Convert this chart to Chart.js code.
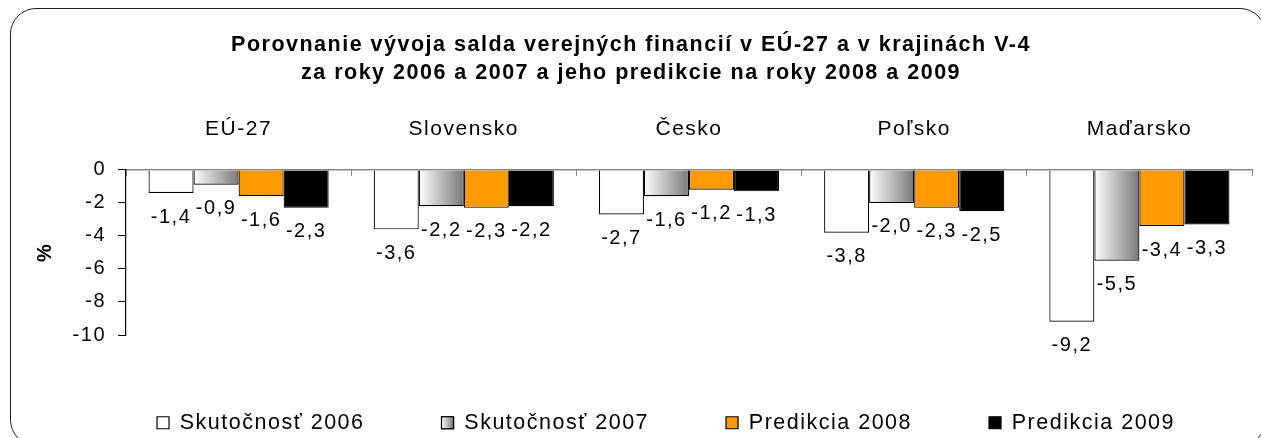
<!DOCTYPE html>
<html>
<head>
<meta charset="utf-8">
<script src="https://cdn.jsdelivr.net/npm/chart.js@4/dist/chart.umd.min.js"></script>
<style>
    html, body { margin: 0; padding: 0; background: #fff; }
    #wrap { position: relative; width: 1261px; height: 438px; overflow: hidden; }
    #frame {
        position: absolute; left: 10px; top: 8px; width: 1256px; height: 438px;
        border: 1.5px solid #222; border-radius: 26px; box-sizing: border-box;
    }
    canvas { position: absolute; left: 0; top: 0; }
</style>
</head>
<body>
<div id="wrap">
    <div id="frame"></div>
    <canvas id="deficitChart" width="1261" height="438"></canvas>
</div>
<script>
// --- Data ---
const categories = ['EÚ-27', 'Slovensko', 'Česko', 'Poľsko', 'Maďarsko'];
const actual2006 = [-1.4, -3.6, -2.7, -3.8, -9.2];
const actual2007 = [-0.9, -2.2, -1.6, -2.0, -5.5];
const forecast2008 = [-1.6, -2.3, -1.2, -2.3, -3.4];
const forecast2009 = [-2.3, -2.2, -1.3, -2.5, -3.3];
const yTicks = [0, -2, -4, -6, -8, -10];
const titleLines = [
    'Porovnanie vývoja salda verejných financií v EÚ-27 a v krajinách V-4',
    'za roky 2006 a 2007 a jeho predikcie na roky 2008 a 2009'
];

const FONT = "'Liberation Sans', Arial, sans-serif";
const SPACING = '1.5px';

function formatValue(v) {
    return v.toFixed(1).replace('.', ',');
}

// slightly spaced lettering, like the original
const letterSpacing = {
    id: 'letterSpacing',
    beforeUpdate(chart) { chart.ctx.letterSpacing = SPACING; },
    beforeDraw(chart) { chart.ctx.letterSpacing = SPACING; }
};

// legend sits low with wide gaps between items; keep its box fixed
const legendHeight = {
    id: 'legendHeight',
    beforeLayout(chart) {
        const lg = chart.legend;
        if (!lg || lg._fixedFit) return;
        const fit = lg.fit;
        lg.fit = function () {
            fit.call(this);
            this.height = 103;
        };
        lg._fixedFit = true;
    }
};

// gradient fill (white -> grey) for the 2007 bars, per bar
const gradientBars = {
    id: 'gradientBars',
    beforeDatasetsDraw(chart) {
        const ctx = chart.ctx;
        chart.data.datasets.forEach((ds, i) => {
            if (!ds.gradient) return;
            chart.getDatasetMeta(i).data.forEach(bar => {
                const g = ctx.createLinearGradient(bar.x - bar.width / 2, 0, bar.x + bar.width / 2, 0);
                g.addColorStop(0, '#ffffff');
                g.addColorStop(1, '#787878');
                bar.options.backgroundColor = g;
            });
        });
    },
    afterDraw(chart) {
        // legend swatch for the gradient series
        const lg = chart.legend;
        if (!lg || !lg.legendHitBoxes) return;
        const ctx = chart.ctx;
        chart.data.datasets.forEach((ds, i) => {
            if (!ds.gradient) return;
            const hb = lg.legendHitBoxes[i];
            const size = lg.options.labels.boxWidth;
            const y = hb.top + (hb.height - size) / 2;
            const g = ctx.createLinearGradient(hb.left, 0, hb.left + size, 0);
            g.addColorStop(0, '#ffffff');
            g.addColorStop(1, '#787878');
            ctx.save();
            ctx.fillStyle = g;
            ctx.strokeStyle = '#000';
            ctx.lineWidth = 1.2;
            ctx.fillRect(hb.left, y, size, size);
            ctx.strokeRect(hb.left, y, size, size);
            ctx.restore();
        });
    }
};

// value labels under each bar
const valueLabels = {
    id: 'valueLabels',
    afterDatasetsDraw(chart) {
        const ctx = chart.ctx;
        ctx.save();
        ctx.letterSpacing = SPACING;
        ctx.font = '20px ' + FONT;
        ctx.fillStyle = '#000';
        ctx.textAlign = 'center';
        ctx.textBaseline = 'middle';
        chart.data.datasets.forEach((ds, i) => {
            chart.getDatasetMeta(i).data.forEach((bar, j) => {
                ctx.fillText(formatValue(ds.data[j]), bar.x, bar.y + 24);
            });
        });
        ctx.restore();
    }
};

const ctx = document.getElementById('deficitChart').getContext('2d');
new Chart(ctx, {
    type: 'bar',
    data: {
        labels: categories,
        datasets: [
            { label: 'Skutočnosť 2006', data: actual2006, backgroundColor: '#ffffff', borderColor: '#000', borderWidth: 1.2 },
            { label: 'Skutočnosť 2007', data: actual2007, backgroundColor: () => '#bbbbbb', borderColor: '#000', borderWidth: 1.2, gradient: true },
            { label: 'Predikcia 2008', data: forecast2008, backgroundColor: '#ff9900', borderColor: '#000', borderWidth: 1.2 },
            { label: 'Predikcia 2009', data: forecast2009, backgroundColor: '#000000', borderColor: '#000', borderWidth: 1.2 }
        ]
    },
    options: {
        responsive: false,
        animation: false,
        layout: { padding: { left: 10, right: 9, top: 0, bottom: 0 } },
        datasets: { bar: { categoryPercentage: 0.8, barPercentage: 1.0 } },
        scales: {
            x: {
                position: 'top',
                afterFit: s => { s.height = 83; },
                // ticks point down into the plot, as in the original
                grid: { drawOnChartArea: false, tickLength: -6, color: '#888' },
                border: { color: '#888', width: 1.5 },
                ticks: { padding: 34, color: '#000', font: { family: FONT, size: 21 } }
            },
            y: {
                min: -10,
                max: 0,
                afterFit: s => { s.width = 116; },
                afterBuildTicks: s => { s.ticks = yTicks.map(v => ({ value: v })); },
                grid: { drawOnChartArea: false, tickLength: 8, color: '#000' },
                border: { color: '#000', width: 1.2 },
                ticks: { padding: 12, color: '#000', font: { family: FONT, size: 20 } },
                title: {
                    display: true, text: '%', color: '#000', padding: { top: 23, bottom: 0 },
                    font: { family: FONT, size: 20, weight: 'bold' }
                }
            }
        },
        plugins: {
            title: {
                display: true,
                text: titleLines,
                color: '#000',
                font: { family: FONT, size: 21.5, weight: 'bold', lineHeight: 1.3 },
                padding: { top: 31, bottom: 0 }
            },
            legend: {
                position: 'bottom',
                align: 'end',
                labels: {
                    color: '#000',
                    boxWidth: 12,
                    boxHeight: 12,
                    padding: 77,
                    font: { family: FONT, size: 21.5, lineHeight: 0.8 }
                }
            },
            tooltip: { enabled: false }
        }
    },
    plugins: [letterSpacing, legendHeight, gradientBars, valueLabels]
});
</script>
</body>
</html>
